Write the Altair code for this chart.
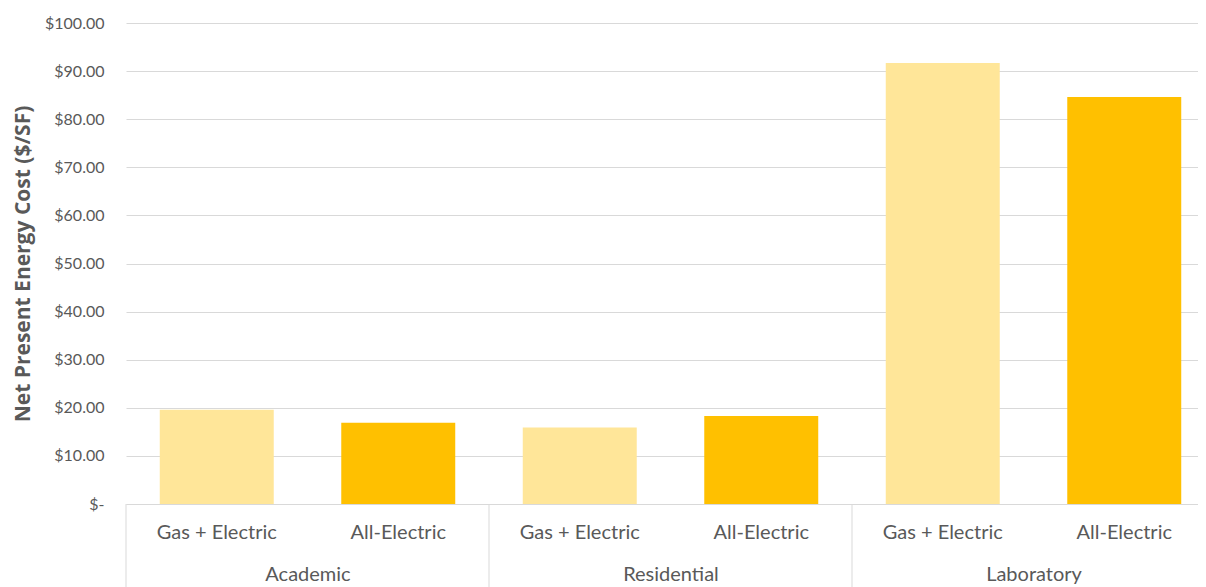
import altair as alt
import pandas as pd

groups = ["Academic", "Residential", "Laboratory"]
systems = ["Gas + Electric", "All-Electric"]
values = [19.6, 16.9, 15.9, 18.3, 91.7, 84.6]
colors = ["#FFE699", "#FFC000"]
y_ticks = [0, 10, 20, 30, 40, 50, 60, 70, 80, 90, 100]

rows = []
i = 0
for g in groups:
    for s in systems:
        rows.append({"group": g, "system": s, "key": g + "|" + s, "value": values[i]})
        i += 1
df = pd.DataFrame(rows)
keys = list(df["key"])
gdf = pd.DataFrame({"group": groups})
edge_df = pd.DataFrame({"group": groups})

W = 1072
FULL_W = 1089
H = 481
FONT = "Lato"
GRAY = "#595959"
LINE = "#D9D9D9"
PI = 0.372

bars = alt.Chart(df).mark_bar().encode(
    x=alt.X("key:N", sort=keys,
            scale=alt.Scale(domain=keys, paddingInner=PI, paddingOuter=PI / 2, range=[0, FULL_W]),
            axis=alt.Axis(title=None, labelExpr="split(datum.label, '|')[1]",
                          ticks=False, domain=True, domainColor=LINE, domainWidth=1,
                          labelFont=FONT, labelFontSize=20, labelColor=GRAY,
                          labelPadding=18, labelAngle=0)),
    y=alt.Y("value:Q",
            scale=alt.Scale(domain=[0, 100], nice=False),
            axis=alt.Axis(title="Net Present Energy Cost ($/SF)", values=y_ticks,
                          labelExpr="datum.value == 0 ? '$-   ' : '$' + format(datum.value, '.2f')",
                          domain=False, ticks=False, grid=True, gridColor=LINE,
                          labelFont=FONT, labelFontSize=16, labelColor=GRAY, labelPadding=22,
                          titleFont="Open Sans", titleFontSize=21, titleFontWeight="bold",
                          titleColor=GRAY, titlePadding=11)),
    color=alt.Color("system:N", scale=alt.Scale(domain=systems, range=colors), legend=None),
)

group_axis = alt.Chart(gdf).mark_text(opacity=0).encode(
    x=alt.X("group:N", sort=groups,
            scale=alt.Scale(domain=groups, paddingInner=0, paddingOuter=0, range=[0, FULL_W]),
            axis=alt.Axis(title=None, orient="bottom", offset=0, ticks=False, domain=False,
                          labelFont=FONT, labelFontSize=20, labelColor=GRAY,
                          labelPadding=60, labelAngle=0)),
    y=alt.value(H),
    text="group:N",
)

separators = alt.Chart(edge_df).mark_rule(color=LINE, strokeWidth=1).encode(
    x=alt.X("group:N", sort=groups, bandPosition=0,
            scale=alt.Scale(domain=groups, paddingInner=0, paddingOuter=0, range=[0, FULL_W]),
            axis=None),
    y=alt.value(H),
    y2=alt.value(H + 100),
)

chart = alt.layer(bars, group_axis, separators).resolve_scale(x="independent").resolve_axis(
    x="independent"
).properties(
    width=W, height=H,
    padding={"left": 118, "top": 15, "right": 0, "bottom": 83},
    autosize=alt.AutoSizeParams(type="none"),
).configure_view(stroke=None)

chart.save("out.html", embed_options={"renderer": "svg", "actions": False})
